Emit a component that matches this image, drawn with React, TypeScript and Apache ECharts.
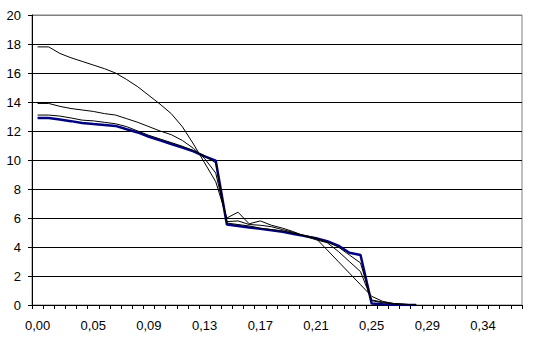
import React, { useEffect, useRef } from "react";
import * as echarts from "echarts";

// x categories (real values, shown with two decimals and a comma)
const categories = [
  "0.000", "0.009", "0.019", "0.028", "0.038", "0.047", "0.055", "0.064", "0.072", "0.081",
  "0.089", "0.097", "0.105", "0.114", "0.122", "0.130", "0.138", "0.146", "0.154", "0.162",
  "0.170", "0.178", "0.187", "0.195", "0.204", "0.212", "0.220", "0.228", "0.235", "0.243",
  "0.251", "0.259", "0.268", "0.276", "0.285", "0.293", "0.301", "0.310", "0.318", "0.327",
  "0.336", "0.344", "0.353", "0.361",
];

// navy thick series
const seriesNavy = [
  12.9, 12.9, 12.8, 12.68, 12.55, 12.48, 12.42, 12.35, 12.12, 11.9,
  11.6, 11.35, 11.1, 10.85, 10.6, 10.25, 9.95, 5.55, 5.45, 5.35,
  5.25, 5.15, 5.05, 4.9, 4.75, 4.6, 4.4, 4.1, 3.6, 3.45,
  0.1, 0.05, 0.02, 0, 0,
];

// thin black series starting at 13.1
const seriesC = [
  13.1, 13.1, 13.03, 12.9, 12.75, 12.7, 12.6, 12.5, 12.3, 12.0,
  11.7, 11.45, 11.2, 10.95, 10.65, 10.3, 9.8, 5.65, 5.55, 5.45,
  5.3, 5.2, 5.1, 4.95, 4.8, 4.62, 4.35, 4.0, 3.45, 2.9,
  0.3, 0.15, 0.08, 0.03, 0,
];

// thin black series starting at 13.9
const seriesB = [
  13.9, 13.9, 13.7, 13.55, 13.45, 13.35, 13.2, 13.1, 12.85, 12.6,
  12.3, 12.0, 11.75, 11.35, 10.8, 10.1, 9.1, 5.75, 5.8, 5.55,
  5.5, 5.4, 5.2, 5.0, 4.75, 4.5, 4.3, 3.7, 3.0, 2.3,
  0.35, 0.2, 0.1, 0.05, 0,
];

// thin black series starting at 17.8
const seriesA = [
  17.8, 17.8, 17.35, 17.05, 16.8, 16.55, 16.3, 16.0, 15.55, 15.05,
  14.45, 13.85, 13.2, 12.3, 11.1, 9.8, 8.5, 6.0, 6.4, 5.6,
  5.8, 5.5, 5.3, 5.05, 4.75, 4.6, 3.8, 3.0, 2.2, 1.4,
  0.6, 0.25, 0.1, 0.05, 0,
];

const yMin = 0;
const yMax = 20;
const yStep = 2;

const FONT = "'Liberation Sans', Arial, sans-serif";

export default function App() {
  const ref = useRef<HTMLDivElement>(null);

  useEffect(() => {
    if (!ref.current) return;
    const chart = echarts.init(ref.current, undefined, { renderer: "svg" });
    const thin = (name: string, data: number[]) => ({
      name,
      type: "line",
      data,
      symbol: "none",
      lineStyle: { color: "#000000", width: 1 },
      itemStyle: { color: "#000000" },
    });
    const splitColors: string[] = [];
    for (let v = yMin; v <= yMax; v += yStep) splitColors.push(v === yMax ? "#808080" : "#000000");
    chart.setOption({
      animation: false,
      backgroundColor: "#ffffff",
      grid: {
        left: 32,
        right: 14,
        top: 15,
        bottom: 40,
        show: true,
        borderColor: "#808080",
        borderWidth: 1,
        backgroundColor: "transparent",
      },
      xAxis: {
        type: "category",
        data: categories,
        boundaryGap: true,
        axisLine: { lineStyle: { color: "#000000", width: 1 } },
        axisTick: { show: true, interval: 0, length: 4, inside: false, alignWithLabel: false, lineStyle: { color: "#000000" } },
        axisLabel: {
          interval: 4,
          margin: 14,
          color: "#000000",
          fontFamily: FONT,
          fontSize: 13,
          formatter: (v: string) => Number(v).toFixed(2).replace(".", ","),
        },
        splitLine: { show: false },
      },
      yAxis: {
        type: "value",
        min: yMin,
        max: yMax,
        interval: yStep,
        axisLine: { show: true, lineStyle: { color: "#000000", width: 1 } },
        axisTick: { show: true, length: 4, lineStyle: { color: "#000000" } },
        axisLabel: { margin: 11, color: "#000000", fontFamily: FONT, fontSize: 13 },
        splitLine: { show: true, lineStyle: { color: splitColors, width: 1 } },
      },
      series: [
        {
          name: "navy",
          type: "line",
          data: seriesNavy,
          symbol: "none",
          lineStyle: { color: "#000080", width: 2.5 },
          itemStyle: { color: "#000080" },
        },
        thin("C", seriesC),
        thin("B", seriesB),
        thin("A", seriesA),
      ],
    });
    return () => chart.dispose();
  }, []);

  return (
    <div
      ref={ref}
      style={{ position: "fixed", left: 0, top: 0, width: 536, height: 345, background: "#fff" }}
    />
  );
}
